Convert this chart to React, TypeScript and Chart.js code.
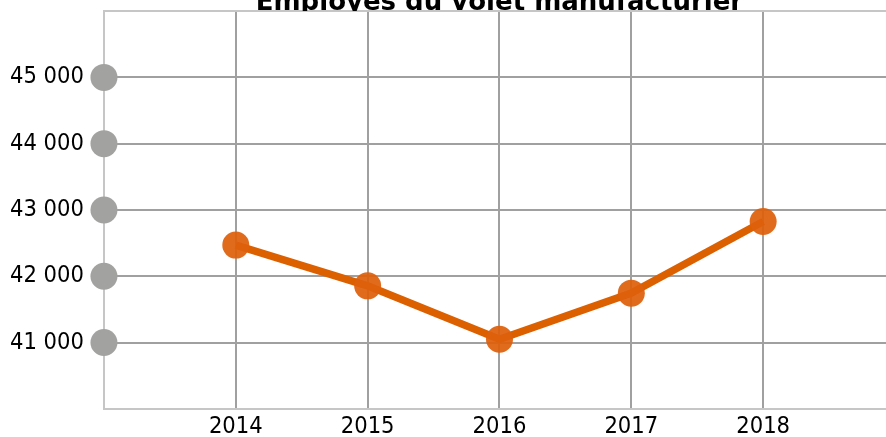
import React, { useEffect, useRef } from "react";
import { Chart, registerables } from "chart.js";

Chart.register(...registerables);

const title = "Employés du volet manufacturier";
const years = [2014, 2015, 2016, 2017, 2018];
const employees = [42470, 41855, 41050, 41745, 42825];
const markerValues = [41000, 42000, 43000, 44000, 45000];
const yMin = 40000;
const yMax = 46000;
const xMin = 2013;
const xMax = 2019;

const tickFamily = "'DejaVu Sans Condensed', 'Open Sans', sans-serif";

const fmt = (v: number) => {
  const s = String(Math.round(v));
  return s.replace(/\B(?=(\d{3})+(?!\d))/g, " ");
};

// clip the title to the band above the plot area (its descenders are hidden in the original)
const clipTitlePlugin = {
  id: "clipTitle",
  afterLayout(chart: any) {
    const tb = chart.titleBlock;
    if (!tb || tb._clipped) return;
    const orig = tb.draw.bind(tb);
    tb.draw = (...args: any[]) => {
      const ctx = chart.ctx;
      ctx.save();
      ctx.beginPath();
      ctx.rect(0, 0, chart.width, chart.chartArea.top);
      ctx.clip();
      orig(...args);
      ctx.restore();
    };
    tb._clipped = true;
  },
};

export default function App() {
  const ref = useRef<HTMLCanvasElement | null>(null);
  useEffect(() => {
    document.body.style.margin = "0";
    const canvas = ref.current!;
    const chart = new Chart(canvas, {
      type: "line",
      plugins: [clipTitlePlugin],
      data: {
        datasets: [
          {
            label: "Employés",
            data: years.map((y, i) => ({ x: y, y: employees[i] })),
            borderColor: "#dc6000",
            borderWidth: 7.5,
            pointRadius: 13.5,
            pointHoverRadius: 13.5,
            pointBackgroundColor: "rgba(222,96,12,0.93)",
            pointBorderWidth: 0,
            tension: 0,
            clip: false as any,
          },
          {
            label: "axe",
            data: markerValues.map((v) => ({ x: xMin, y: v })),
            showLine: false,
            pointRadius: 13.5,
            pointHoverRadius: 13.5,
            pointBackgroundColor: "#a2a2a0",
            pointBorderWidth: 0,
            clip: false as any,
          },
        ],
      },
      options: {
        responsive: false,
        animation: false,
        events: [],
        layout: { autoPadding: false, padding: 0 },
        plugins: {
          legend: { display: false },
          tooltip: { enabled: false },
          title: {
            display: true,
            text: title,
            fullSize: false,
            color: "#000",
            padding: { top: 0, bottom: -3 },
            font: { family: "DejaVu Sans", size: 26, weight: "bold", lineHeight: 0.8 },
          },
        },
        scales: {
          x: {
            type: "linear",
            min: xMin,
            max: xMax,
            ticks: {
              stepSize: 1,
              color: "#000",
              padding: 4,
              font: { family: tickFamily, size: 23.5 },
              callback: (v: any) => (v >= 2014 && v <= 2018 ? String(v) : ""),
            },
            grid: {
              drawTicks: false,
              lineWidth: 2,
              color: (c: any) =>
                c.tick && c.tick.value > xMin && c.tick.value < xMax ? "#a0a0a0" : "rgba(0,0,0,0)",
            },
            border: { color: "#c6c6c6", width: 2 },
          },
          y: {
            type: "linear",
            min: yMin,
            max: yMax,
            ticks: {
              stepSize: 1000,
              color: "#000",
              padding: 20,
              font: { family: tickFamily, size: 23.5 },
              callback: (v: any) => (v > yMin && v < yMax ? fmt(v) : ""),
            },
            grid: {
              drawTicks: false,
              lineWidth: 2,
              color: (c: any) => {
                const v = c.tick ? c.tick.value : 0;
                if (v === yMax) return "#c6c6c6";
                if (v === yMin) return "rgba(0,0,0,0)";
                return "#a0a0a0";
              },
            },
            border: { color: "#c6c6c6", width: 2 },
          },
        },
      },
    });
    chart.draw();
    return () => chart.destroy();
  }, []);
  return (
    <div style={{ position: "absolute", left: 0, top: 0, width: 886, height: 437, overflow: "hidden", background: "#fff" }}>
      <canvas ref={ref} width={909} height={468} style={{ position: "absolute", left: -10, top: -23, width: 909, height: 468 }} />
    </div>
  );
}
